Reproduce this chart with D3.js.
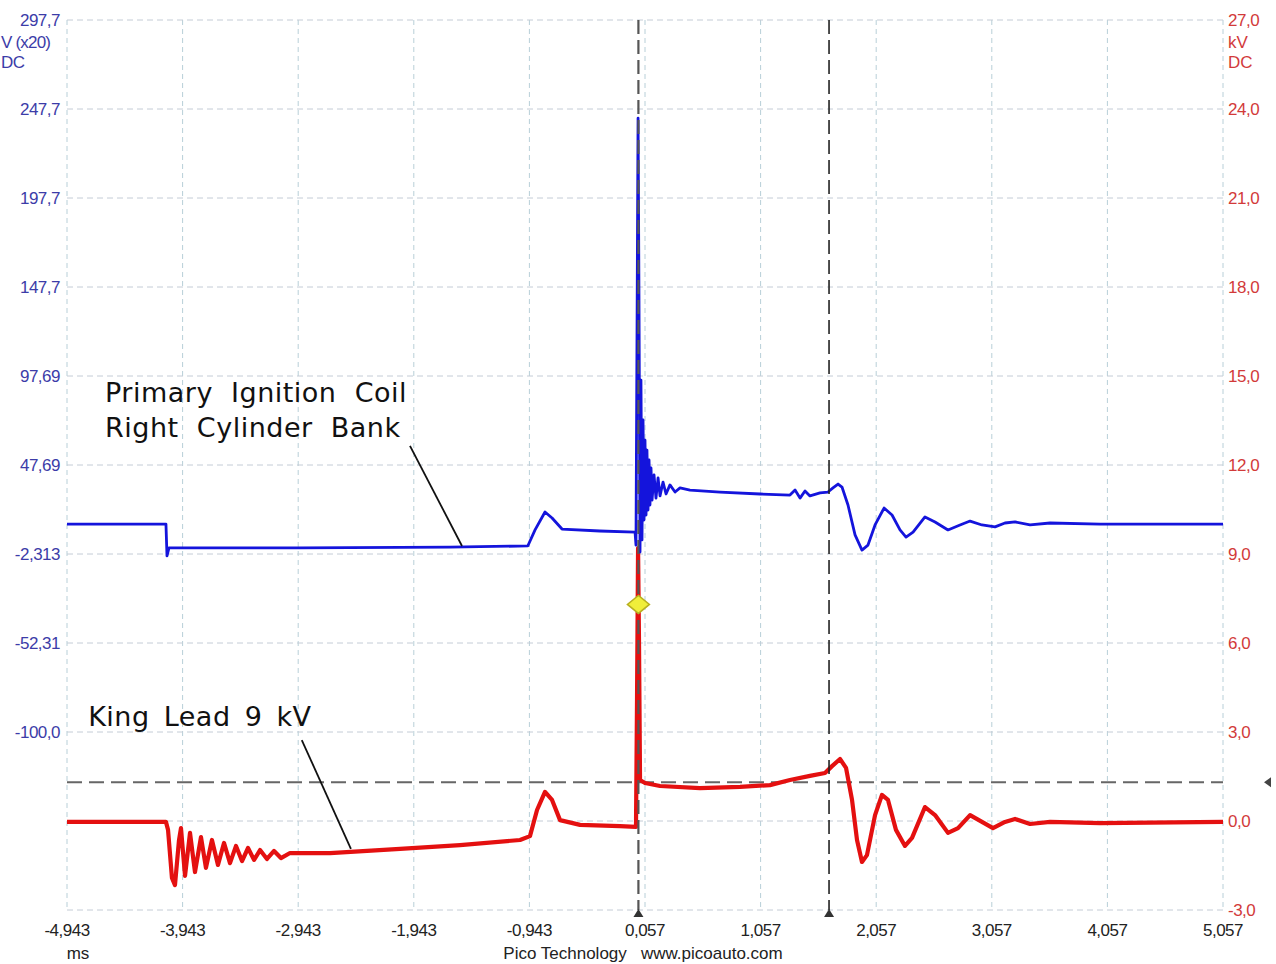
<!DOCTYPE html>
<html>
<head>
<meta charset="utf-8">
<script src="https://cdn.jsdelivr.net/npm/d3@7"></script>
<style>
  html, body { margin: 0; padding: 0; background: #ffffff; }
  svg { display: block; }
  .tick-lbl { font-family: "Liberation Sans Narrow", "Liberation Sans", sans-serif; font-size: 17px; }
  .anno { font-family: "DejaVu Sans", Verdana, sans-serif; font-size: 27px; fill: #111; letter-spacing: 0.5px; }
</style>
</head>
<body>
<svg id="chart" width="1276" height="964"></svg>
<script>
// ---------------- DATA ----------------
const timeTicks = [-4.943, -3.943, -2.943, -1.943, -0.943, 0.057, 1.057, 2.057, 3.057, 4.057, 5.057];
const timeTickLabels = ["-4,943", "-3,943", "-2,943", "-1,943", "-0,943", "0,057", "1,057", "2,057", "3,057", "4,057", "5,057"];

const leftTicks = [297.687, 247.687, 197.687, 147.687, 97.687, 47.687, -2.313, -52.313, -102.313];
const leftTickLabels = ["297,7", "247,7", "197,7", "147,7", "97,69", "47,69", "-2,313", "-52,31", "-100,0"];

const rightTicks = [27, 24, 21, 18, 15, 12, 9, 6, 3, 0, -3];
const rightTickLabels = ["27,0", "24,0", "21,0", "18,0", "15,0", "12,0", "9,0", "6,0", "3,0", "0,0", "-3,0"];

// Primary ignition coil voltage, V (x20) — [time ms, value]
const primaryTime = [-4.943, -4.087, -4.078, -4.061, -2.929, -1.631, -0.957, -0.894, -0.808, -0.747, -0.661, -0.334, -0.029, -0.021,
  -0.003, 0.005, 0.014, 0.022, 0.031, 0.040, 0.048, 0.057, 0.066, 0.074, 0.083, 0.092, 0.100, 0.109, 0.118, 0.135, 0.152, 0.170,
  0.187, 0.213, 0.239, 0.273, 0.317, 0.360, 0.446, 0.706, 1.052, 1.311, 1.355, 1.398, 1.441, 1.484, 1.571, 1.640, 1.683, 1.727,
  1.761, 1.813, 1.874, 1.934, 1.986, 2.047, 2.125, 2.194, 2.263, 2.315, 2.376, 2.479, 2.566, 2.678, 2.782, 2.869, 2.972, 3.085,
  3.171, 3.258, 3.388, 3.561, 3.993, 5.057];
const primaryValue = [14.5, 14.5, -3.4, 1.1, 1.1, 1.6, 2.2, 11.2, 21.3, 17.9, 11.7, 10.6, 10.0, 2.7,
  242.6, 140.4, -1.2, 95.4, 5.6, 73.0, 16.8, 61.7, 19.6, 56.1, 22.4, 50.5, 25.2, 46.0, 28.0, 42.1, 29.1, 40.4,
  30.3, 38.1, 31.4, 36.5, 32.5, 34.8, 33.6, 32.5, 31.4, 30.8, 33.6, 29.1, 33.1, 30.3, 32.0, 32.5, 34.8, 37.0,
  35.3, 25.2, 8.4, -0.1, 2.7, 14.0, 23.5, 19.6, 11.2, 7.2, 10.0, 18.5, 15.7, 11.2, 14.0, 16.2, 14.0, 12.9,
  15.1, 15.7, 14.0, 15.1, 14.5, 14.5];

// King lead secondary voltage, kV — [time ms, value]
const kingTime = [-4.943, -4.087, -4.069, -4.035, -4.009, -3.974, -3.957, -3.922, -3.879, -3.836, -3.784, -3.741, -3.689, -3.637,
  -3.585, -3.533, -3.481, -3.429, -3.377, -3.325, -3.273, -3.213, -3.152, -3.092, -3.014, -2.668, -2.062, -1.543, -1.024, -0.938,
  -0.877, -0.808, -0.747, -0.678, -0.505, -0.159, -0.021, -0.012, -0.003, 0.005, 0.014, 0.057, 0.187, 0.533, 0.879, 1.138, 1.311,
  1.484, 1.614, 1.675, 1.744, 1.796, 1.848, 1.891, 1.934, 1.977, 2.047, 2.107, 2.159, 2.228, 2.306, 2.367, 2.479, 2.566, 2.678,
  2.765, 2.869, 2.972, 3.067, 3.171, 3.258, 3.388, 3.561, 3.993, 5.057];
const kingValue = [-0.03, -0.03, -0.30, -1.92, -2.16, -0.64, -0.24, -1.85, -0.40, -1.72, -0.54, -1.58, -0.64, -1.48,
  -0.74, -1.42, -0.84, -1.35, -0.91, -1.31, -0.98, -1.28, -1.01, -1.25, -1.08, -1.08, -0.94, -0.81, -0.64, -0.51,
  0.37, 0.98, 0.71, 0.03, -0.13, -0.17, -0.20, 4.08, 9.20, 6.10, 1.38, 1.28, 1.18, 1.11, 1.15, 1.21, 1.38,
  1.52, 1.62, 1.85, 2.09, 1.79, 0.71, -0.64, -1.38, -1.15, 0.20, 0.88, 0.71, -0.30, -0.84, -0.57, 0.47, 0.20, -0.40,
  -0.24, 0.20, -0.03, -0.24, -0.03, 0.07, -0.10, -0.03, -0.07, -0.03];

const cursorTimes = [0.0, 1.649];
const triggerLevel = 1.31;   // kV
const triggerPoint = [0.0, 7.3]; // kV (diamond marker)

const annotations = [
  { lines: ["Primary  Ignition  Coil", "Right  Cylinder  Bank"], t: -4.614, v: 83.1, axis: "left", ws: 0,
    from: [-1.976, 58.4], to: [-1.526, 2.2] },
  { lines: ["King Lead 9 kV"], t: -4.760, v: 3.2, axis: "right", ws: 5,
    from: [-2.912, 2.73], to: [-2.487, -0.94] }
];

// ---------------- CHART ----------------
const svg = d3.select("#chart");
const X0 = 67, X1 = 1223, Y0 = 20, Y1 = 910;

const x = d3.scaleLinear().domain([-4.943, 5.057]).range([X0, X1]);
const yL = d3.scaleLinear().domain([-202.313, 297.687]).range([Y1, Y0]);
const yR = d3.scaleLinear().domain([-3, 27]).range([Y1, Y0]);

const gridCol = "#c4ccd6";
// vertical grid
svg.append("g").selectAll("line").data(timeTicks).join("line")
  .attr("x1", d => x(d)).attr("x2", d => x(d)).attr("y1", Y0).attr("y2", Y1)
  .attr("stroke", "#b8cfd8").attr("stroke-width", 1).attr("stroke-dasharray", "5,4");
// horizontal grid
svg.append("g").selectAll("line").data(rightTicks).join("line")
  .attr("x1", X0).attr("x2", X1).attr("y1", d => yR(d)).attr("y2", d => yR(d))
  .attr("stroke", gridCol).attr("stroke-width", 1).attr("stroke-dasharray", "6,4");

// left axis labels
const leftCol = "#3c3ca8", rightCol = "#d23a3a";
svg.append("g").selectAll("text").data(leftTicks).join("text")
  .attr("class", "tick-lbl").attr("x", 60).attr("y", d => yL(d)).attr("dy", "0.35em")
  .attr("text-anchor", "end").attr("fill", leftCol).attr("letter-spacing", "-0.5")
  .text((d, i) => leftTickLabels[i]);
svg.append("text").attr("class", "tick-lbl").attr("x", 1).attr("y", 42).attr("dy", "0.35em")
  .attr("fill", leftCol).attr("letter-spacing", "-0.8").text("V (x20)");
svg.append("text").attr("class", "tick-lbl").attr("x", 1).attr("y", 62).attr("dy", "0.35em")
  .attr("fill", leftCol).attr("letter-spacing", "-0.5").text("DC");

// right axis labels
svg.append("g").selectAll("text").data(rightTicks).join("text")
  .attr("class", "tick-lbl").attr("x", 1228).attr("y", d => yR(d)).attr("dy", "0.35em")
  .attr("fill", rightCol).attr("letter-spacing", "-0.5")
  .text((d, i) => rightTickLabels[i]);
svg.append("text").attr("class", "tick-lbl").attr("x", 1228).attr("y", 42).attr("dy", "0.35em")
  .attr("fill", rightCol).text("kV");
svg.append("text").attr("class", "tick-lbl").attr("x", 1228).attr("y", 62).attr("dy", "0.35em")
  .attr("fill", rightCol).text("DC");

// bottom axis labels
svg.append("g").selectAll("text").data(timeTicks).join("text")
  .attr("class", "tick-lbl").attr("x", d => x(d)).attr("y", 930).attr("dy", "0.35em")
  .attr("text-anchor", "middle").attr("fill", "#222").attr("letter-spacing", "-0.5")
  .text((d, i) => timeTickLabels[i]);
svg.append("text").attr("class", "tick-lbl").attr("x", 78).attr("y", 953).attr("dy", "0.35em")
  .attr("text-anchor", "middle").attr("fill", "#222").text("ms");
svg.append("text").attr("class", "tick-lbl").attr("x", 643).attr("y", 953).attr("dy", "0.35em")
  .attr("text-anchor", "middle").attr("fill", "#222").attr("xml:space", "preserve")
  .text("Pico Technology   www.picoauto.com");

// trigger level dashed line
svg.append("line").attr("x1", X0).attr("x2", X1).attr("y1", yR(triggerLevel)).attr("y2", yR(triggerLevel))
  .attr("stroke", "#666").attr("stroke-width", 2).attr("stroke-dasharray", "15,7");
svg.append("path")
  .attr("d", `M${1264},${yR(triggerLevel)} l7,-5 l0,10 z`).attr("fill", "#444");

// traces
const lineL = d3.line().x(d => x(d[0])).y(d => yL(d[1]));
const lineR = d3.line().x(d => x(d[0])).y(d => yR(d[1]));
const kingData = kingTime.map((t, i) => [t, kingValue[i]]);
const primData = primaryTime.map((t, i) => [t, primaryValue[i]]);

svg.append("path").datum(kingData).attr("d", lineR)
  .attr("fill", "none").attr("stroke", "#e41010").attr("stroke-width", 4.2).attr("stroke-linejoin", "round");
svg.append("path").datum(primData).attr("d", lineL)
  .attr("fill", "none").attr("stroke", "#1414dc").attr("stroke-width", 2.8).attr("stroke-linejoin", "round");

// cursors
svg.append("g").selectAll("line").data(cursorTimes).join("line")
  .attr("x1", d => x(d)).attr("x2", d => x(d)).attr("y1", Y0).attr("y2", Y1)
  .attr("stroke", (d, i) => i === 0 ? "#555" : "#222").attr("stroke-width", (d, i) => i === 0 ? 2.2 : 1.6)
  .attr("stroke-dasharray", "14,6");
svg.append("g").selectAll("path").data(cursorTimes).join("path")
  .attr("d", d => `M${x(d)},${Y1 - 1} l-5,8 l10,0 z`).attr("fill", "#333");

// trigger diamond
svg.append("path")
  .attr("d", `M${x(triggerPoint[0])},${yR(triggerPoint[1]) - 9} l11,9 l-11,9 l-11,-9 z`)
  .attr("fill", "#f0ee3a").attr("stroke", "#b8b020").attr("stroke-width", 1.5);

// annotations
annotations.forEach(a => {
  const ys = a.axis === "left" ? yL : yR;
  const t = svg.append("text").attr("class", "anno").attr("xml:space", "preserve")
    .attr("word-spacing", a.ws).attr("x", x(a.t)).attr("y", ys(a.v));
  a.lines.forEach((ln, i) => {
    t.append("tspan").attr("x", x(a.t)).attr("dy", i === 0 ? 0 : 35).text(ln);
  });
  svg.append("line")
    .attr("x1", x(a.from[0])).attr("y1", ys(a.from[1]))
    .attr("x2", x(a.to[0])).attr("y2", ys(a.to[1]))
    .attr("stroke", "#111").attr("stroke-width", 1.8);
});
</script>
</body>
</html>
